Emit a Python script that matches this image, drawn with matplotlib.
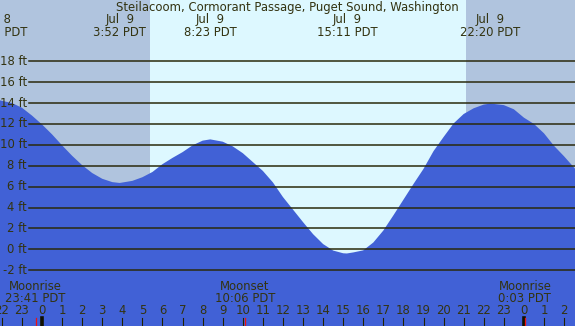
import matplotlib
matplotlib.use("Agg")
import matplotlib.pyplot as plt
from matplotlib.transforms import blended_transform_factory

# Tide heights (ft), hours from midnight Jul 9 (PDT)
hours = [-2.2, -1.5, -1.0, -0.5, 0.0, 0.5, 1.0, 1.5, 2.0, 2.5, 3.0, 3.5, 3.87,
         4.5, 5.0, 5.5, 6.0, 6.5, 7.0, 7.5, 8.0, 8.38, 9.0, 9.5, 10.0, 10.5,
         11.0, 11.5, 12.0, 12.5, 13.0, 13.5, 14.0, 14.5, 15.0, 15.18, 15.5,
         16.0, 16.5, 17.0, 17.5, 18.0, 18.5, 19.0, 19.5, 20.0, 20.5, 21.0,
         21.5, 22.0, 22.33, 23.0, 23.5, 24.0, 24.5, 25.0, 25.5, 26.0, 26.6]
heights = [14.3, 14.0, 13.55, 12.8, 11.95, 11.0, 9.95, 8.95, 8.05, 7.3, 6.75, 6.43, 6.35,
           6.55, 6.9, 7.4, 8.15, 8.75, 9.3, 9.95, 10.4, 10.52, 10.3, 9.85, 9.2, 8.35,
           7.5, 6.4, 5.0, 3.8, 2.6, 1.45, 0.5, -0.12, -0.38, -0.4, -0.3,
           -0.1, 0.65, 1.8, 3.25, 4.75, 6.25, 7.7, 9.4, 10.75, 12.05, 12.95,
           13.5, 13.85, 13.95, 13.8, 13.4, 12.6, 12.0, 11.1, 9.9, 8.9, 7.6]

# high / low tide labels
tide_times = [-2.23, 3.87, 8.38, 15.18, 22.33]
tide_dates = ["Jul  8", "Jul  9", "Jul  9", "Jul  9", "Jul  9"]
tide_labels = ["21:46 PDT", "3:52 PDT", "8:23 PDT", "15:11 PDT", "22:20 PDT"]

# moon events
moon_times = [-0.32, 10.1, 24.05]
moon_names = ["Moonrise", "Moonset", "Moonrise"]
moon_labels = ["23:41 PDT", "10:06 PDT", "0:03 PDT"]

sunrise = 5.38
sunset = 21.12

ft_ticks = list(range(-2, 20, 2))
hour_ticks = list(range(-2, 27))

NIGHT = "#b0c4de"
DAY = "#ddf8ff"
WATER = "#4161d6"
INK = "#333311"
W, H = 575, 326

fig = plt.figure(figsize=(W / 100, H / 100), dpi=100)
ax = fig.add_axes([0, 0, 1, 1])
ax.set_xlim(-2.092, 26.544)
ax.set_ylim(-7.34, 23.86)
ax.axis("off")

ax.axvspan(-5, sunrise, color=NIGHT, lw=0)
ax.axvspan(sunrise, sunset, color=DAY, lw=0)
ax.axvspan(sunset, 30, color=NIGHT, lw=0)

ax.fill_between(hours, heights, -10, color=WATER, lw=0)

# grid lines + ft labels
xa = blended_transform_factory(ax.transAxes, ax.transData)
for f in ft_ticks:
    ax.plot([29 / W, 1], [f, f], transform=xa, color="#2a2a0c", lw=1.1)
    ax.text(27 / W, f, f"{f} ft", transform=xa, ha="right", va="center",
            fontsize=8.4, color=INK)

ya = blended_transform_factory(ax.transData, ax.transAxes)

def fy(px):
    return 1 - px / H

ax.text(0.5, fy(7), "Steilacoom, Cormorant Passage, Puget Sound, Washington",
        transform=ax.transAxes, ha="center", va="center", fontsize=8.4, color=INK)

for t, d, lab in zip(tide_times, tide_dates, tide_labels):
    ax.text(t, fy(20), d, transform=ya, ha="center", va="center", fontsize=8.4, color=INK)
    ax.text(t, fy(32), lab, transform=ya, ha="center", va="center", fontsize=8.4, color=INK)

for t, n, lab in zip(moon_times, moon_names, moon_labels):
    ax.text(t, fy(287), n, transform=ya, ha="center", va="center", fontsize=8.4, color=INK)
    ax.text(t, fy(299), lab, transform=ya, ha="center", va="center", fontsize=8.4, color=INK)

# hour axis
for h in hour_ticks:
    ax.text(h, fy(311), str(h % 24), transform=ya, ha="center", va="center",
            fontsize=8.4, color=INK)
    ax.plot([h, h], [0, 8 / H], transform=ya, color="#222200", lw=0.8)
for h in [0, 24]:
    ax.plot([h, h], [0, 8 / H], transform=ya, color="#111100", lw=2.6)
for t in moon_times:
    ax.plot([t, t], [0, 8 / H], transform=ya, color="#ee1111", lw=0.9)

fig.savefig("out.png", dpi=100)
